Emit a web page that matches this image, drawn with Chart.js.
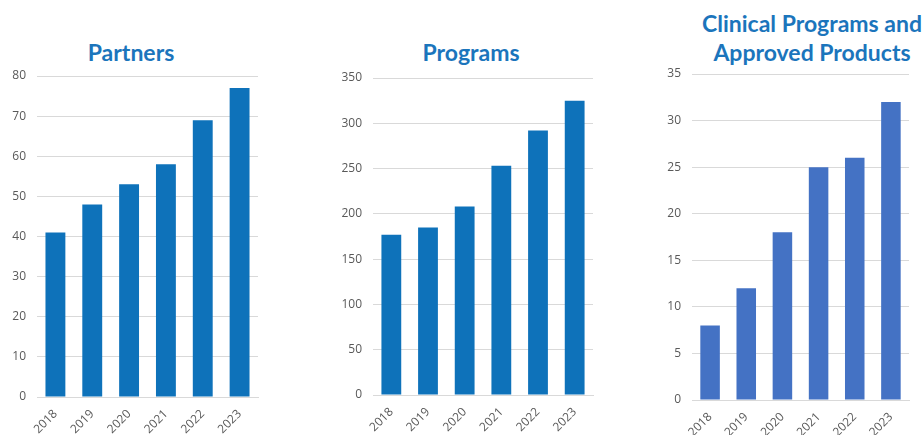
<!DOCTYPE html>
<html>
<head>
<meta charset="utf-8">
<script src="https://cdn.jsdelivr.net/npm/chart.js@4.4.0/dist/chart.umd.min.js"></script>
<style>
  html, body { margin: 0; padding: 0; background: #fff; }
  body { width: 924px; height: 435px; position: relative; overflow: hidden; }
  .box { position: absolute; top: 0; height: 435px; }
  .title {
    position: absolute; text-align: center;
    font-family: Lato, "Open Sans", sans-serif; font-weight: bold;
    font-size: 23px; line-height: 29px; color: #1B75BC; white-space: nowrap;
  }
</style>
</head>
<body>
<div class="title" style="left:71px;width:120px;top:38px;">Partners</div>
<div class="title" style="left:411px;width:120px;top:38px;">Programs</div>
<div class="title" style="left:692px;width:240px;top:9px;">Clinical Programs and<br>Approved Products</div>

<div class="box" style="left:0;width:270px;"><canvas id="c1"></canvas></div>
<div class="box" style="left:320px;width:285px;"><canvas id="c2"></canvas></div>
<div class="box" style="left:640px;width:284px;"><canvas id="c3"></canvas></div>

<script>
const years = ['2018', '2019', '2020', '2021', '2022', '2023'];

const partners = [41, 48, 53, 58, 69, 77];
const programs = [177, 185, 208, 253, 292, 325];
const clinical = [8, 12, 18, 25, 26, 32];

const partnersTicks = { max: 80, step: 10 };
const programsTicks = { max: 350, step: 50 };
const clinicalTicks = { max: 35, step: 5 };

const tickFont = { family: 'Open Sans', size: 12 };
const tickColor = '#595959';
const gridColor = '#D9D9D9';

function makeChart(id, values, ticks, color, axisW, padTop, padRight, axisH) {
    return new Chart(document.getElementById(id), {
        type: 'bar',
        data: {
            labels: years,
            datasets: [{
                data: values,
                backgroundColor: color,
                categoryPercentage: 1,
                barPercentage: 0.54
            }]
        },
        options: {
            responsive: true,
            maintainAspectRatio: false,
            animation: false,
            layout: { padding: { top: padTop, right: padRight, left: 0, bottom: 0 } },
            plugins: {
                legend: { display: false },
                tooltip: { enabled: false }
            },
            scales: {
                x: {
                    grid: { display: false },
                    border: { color: gridColor },
                    ticks: {
                        color: tickColor, font: tickFont,
                        maxRotation: 45, minRotation: 45, padding: 2
                    },
                    afterFit: (axis) => { axis.height = axisH; }
                },
                y: {
                    min: 0, max: ticks.max,
                    border: { display: false },
                    grid: { color: gridColor, drawTicks: false },
                    ticks: {
                        stepSize: ticks.step,
                        color: tickColor, font: tickFont, padding: 11
                    },
                    afterFit: (axis) => { axis.width = axisW; }
                }
            }
        }
    });
}

makeChart('c1', partners, partnersTicks, '#0E72BA', 37, 76, 12, 38);
makeChart('c2', programs, programsTicks, '#0E72BA', 53, 78, 12, 40);
makeChart('c3', clinical, clinicalTicks, '#4472C4', 52, 74, 15, 35);
</script>
</body>
</html>
